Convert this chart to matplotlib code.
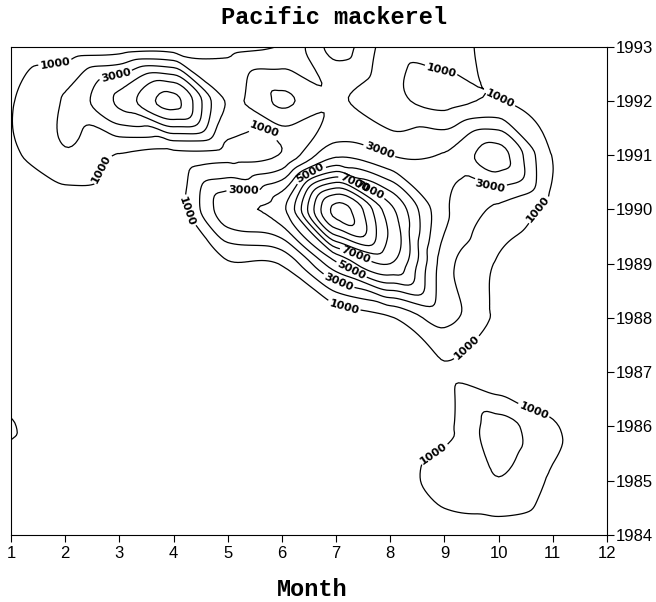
import numpy as np
import matplotlib
matplotlib.use('Agg')
import matplotlib.pyplot as plt
import matplotlib.tri as mtri

# survey grid: months across, years down (top row = 1993)
months = [1, 2, 3, 4, 5, 6, 7, 8, 9, 10, 11, 12]
years = [1993, 1992, 1991, 1990, 1989, 1988, 1987, 1986, 1985, 1984]
year_ticks = list(range(1984, 1994))

catch_1993 = [250, 300, 350, 400, 700, 1050, 3350, 1500, 1500, 500, 200, 100]
catch_1992 = [920, 2100, 4200, 6300, 1900, 3150, 2100, 1300, 700, 1050, 600, 100]
catch_1991 = [780, 1900, 950, 700, 800, 1100, 3800, 3000, 3050, 4400, 950, 150]
catch_1990 = [150, 300, 250, 450, 3700, 4700, 11300, 7300, 3200, 1800, 700, 100]
catch_1989 = [100, 150, 200, 200, 900, 1100, 4800, 7000, 2500, 900, 300, 100]
catch_1988 = [100, 100, 150, 150, 200, 200, 300, 900, 2300, 800, 200, 100]
catch_1987 = [200, 100, 100, 100, 100, 150, 200, 300, 850, 150, 100, 100]
catch_1986 = [1080, 150, 100, 100, 100, 100, 150, 200, 750, 2350, 1100, 300]
catch_1985 = [200, 100, 100, 100, 100, 100, 150, 500, 1400, 1950, 850, 100]
catch_1984 = [100, 100, 100, 100, 100, 100, 100, 200, 500, 450, 200, 100]

# labelled (odd thousands) and unlabelled (even thousands) contour levels
label_levels = [1000, 3000, 5000, 7000, 9000, 11000]
plain_levels = [2000, 4000, 6000, 8000, 10000]

# where the labels sit along the lines (month, year)
label_spots = [(1.85, 1992.45), (2.96, 1992.35), (2.46, 1990.82), (5.56, 1991.3),
               (4.34, 1990.0), (5.28, 1990.3), (6.55, 1990.6), (7.38, 1990.58),
               (7.57, 1990.27), (7.81, 1991.11), (7.38, 1989.2), (7.35, 1989.01),
               (7.1, 1988.8), (7.16, 1988.28), (8.92, 1992.44), (9.97, 1991.92),
               (9.84, 1990.41), (10.7, 1990.04), (9.46, 1987.4), (10.7, 1986.4),
               (8.8, 1985.5)]

Z = np.array([catch_1993, catch_1992, catch_1991, catch_1990, catch_1989,
              catch_1988, catch_1987, catch_1986, catch_1985, catch_1984], dtype=float)
X, Y = np.meshgrid(months, years)
nr, nc = Z.shape

# split grid cells upper-left to lower-right, except the cell whose
# lower-left corner is (month 6, 1991), split the other way
flip = {(6, 1991)}
cells = []
for r in range(nr - 1):
    for c in range(nc - 1):
        ul, ur = r * nc + c, r * nc + c + 1
        ll, lr = (r + 1) * nc + c, (r + 1) * nc + c + 1
        if (months[c], years[r + 1]) in flip:
            cells.append([ll, lr, ur])
            cells.append([ll, ur, ul])
        else:
            cells.append([ul, ll, lr])
            cells.append([ul, lr, ur])

# smooth the coarse grid with matplotlib's cubic refiner
tri = mtri.Triangulation(X.ravel(), Y.ravel(), triangles=cells)
interp = mtri.CubicTriInterpolator(tri, Z.ravel(), kind='geom')
refiner = mtri.UniformTriRefiner(tri)
tri_f, z_f = refiner.refine_field(Z.ravel(), triinterpolator=interp, subdiv=4)

fig = plt.figure(figsize=(6.56, 6.02), dpi=100)
ax = fig.add_axes([11/656, 67/602, 596/656, 488.5/602])

ax.tricontour(tri_f, z_f, levels=plain_levels, colors='k', linewidths=0.9)
cs = ax.tricontour(tri_f, z_f, levels=label_levels, colors='k', linewidths=0.9)
ax.set_xlim(1, 12)
ax.set_ylim(1984, 1993)
labels = ax.clabel(cs, fmt='%d', fontsize=8, inline=True,
                   inline_spacing=3, manual=label_spots)
for t in labels:
    t.set_fontweight('bold')

ax.set_xticks(months)
ax.set_yticks(year_ticks)
ax.yaxis.tick_right()
ax.tick_params(axis='y', direction='out', length=5, pad=1, labelsize=12)
ax.tick_params(axis='x', direction='out', length=5, pad=3, labelsize=12)
for lab in ax.get_xticklabels() + ax.get_yticklabels():
    lab.set_family('Liberation Sans')

fig.text(334/656, 1 - 18/602, 'Pacific mackerel', ha='center', va='center',
         family='Liberation Mono', fontweight='bold', fontsize=17)
fig.text(312/656, 1 - 590/602, 'Month', ha='center', va='center',
         family='Liberation Mono', fontweight='bold', fontsize=17)

fig.savefig('out.png', dpi=100)
